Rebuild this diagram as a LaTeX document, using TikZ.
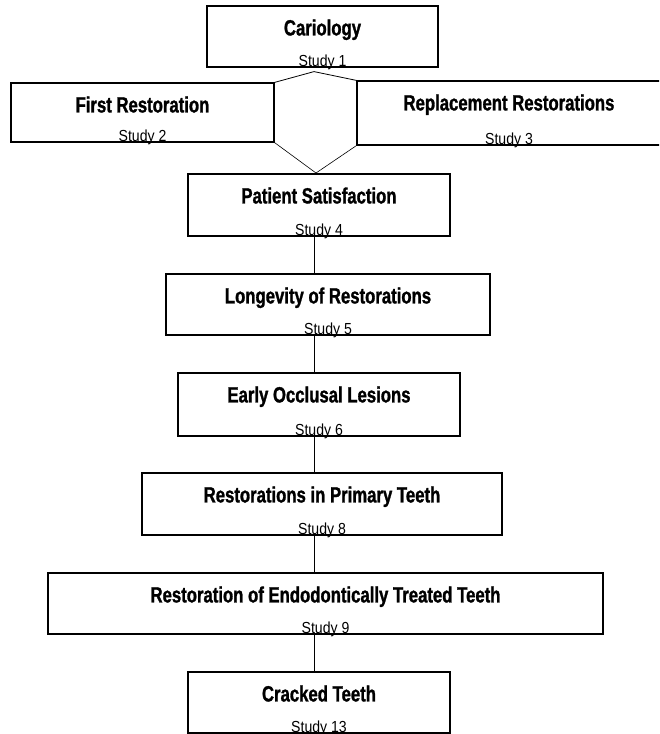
\documentclass[tikz,border=0pt]{standalone}
\usepackage{fontspec}
\newfontfamily\tfont[FakeStretch=0.76, BoldFeatures={FakeBold=1.2}]{Liberation Sans}
\newfontfamily\sfont[FakeStretch=0.88]{Liberation Sans}
\begin{document}
\begin{tikzpicture}[x=1pt,y=-1pt,
  box/.style={draw, line width=1.2pt, inner sep=0pt, minimum width=#1},
  box/.default=100,
  ttl/.style={font=\tfont\bfseries\fontsize{22}{22}\selectfont, anchor=base, inner sep=0pt},
  stdy/.style={font=\sfont\fontsize{16}{16}\selectfont, anchor=base, inner sep=0pt},
  conn/.style={line width=1pt},
  hexl/.style={line width=0.8pt}]
\useasboundingbox (0,0) rectangle (659,734);
\begin{scope}
\clip (0,0) rectangle (659,734);
% boxes: centre x, centre y, width, height
\node[box=231, minimum height=61] (cari) at (322.5,36.5) {};
\node[box=263, minimum height=59] (first) at (142.5,112.5) {};
\node[box=304, minimum height=64] (rep) at (509,113) {};
\node[box=262, minimum height=62] (pat) at (319,205) {};
\node[box=324, minimum height=61] (lon) at (328,304.5) {};
\node[box=282, minimum height=63] (early) at (319,404.5) {};
\node[box=360, minimum height=62] (prim) at (322,504) {};
\node[box=555, minimum height=61] (endo) at (325.5,603.5) {};
\node[box=262, minimum height=61] (crack) at (319,702.5) {};

% titles and study labels
\foreach \b/\t/\s in {cari/Cariology/Study 1,
  first/First Restoration/Study 2,
  rep/Replacement Restorations/Study 3,
  pat/Patient Satisfaction/Study 4,
  lon/Longevity of Restorations/Study 5,
  early/Early Occlusal Lesions/Study 6,
  prim/Restorations in Primary Teeth/Study 8,
  endo/Restoration of Endodontically Treated Teeth/Study 9,
  crack/Cracked Teeth/Study 13}{
  \node[ttl] (\b-t) at ([yshift=-30pt]\b.north) {\t};
  \node[stdy] (\b-s) at ([yshift=1.5pt]\b.south) {\s};
}
\end{scope}
\coordinate (spine) at (314,0);
\coordinate (hexTop) at ([yshift=-4pt]cari.south -| spine);
\coordinate (hexBot) at (316,173);

\draw[hexl] (first.north east) -- (hexTop) -- (rep.north west);
\draw[hexl, line width=0.6pt] (first.south east) -- (hexBot) -- (rep.south west);

\draw[conn] (spine |- pat.south) -- (spine |- lon.north);
\draw[conn] (spine |- lon.south) -- (spine |- early.north);
\draw[conn] (spine |- early.south) -- (spine |- prim.north);
\draw[conn] (spine |- prim.south) -- (spine |- endo.north);
\draw[conn] (spine |- endo.south) -- (spine |- crack.north);
\end{tikzpicture}
\end{document}
